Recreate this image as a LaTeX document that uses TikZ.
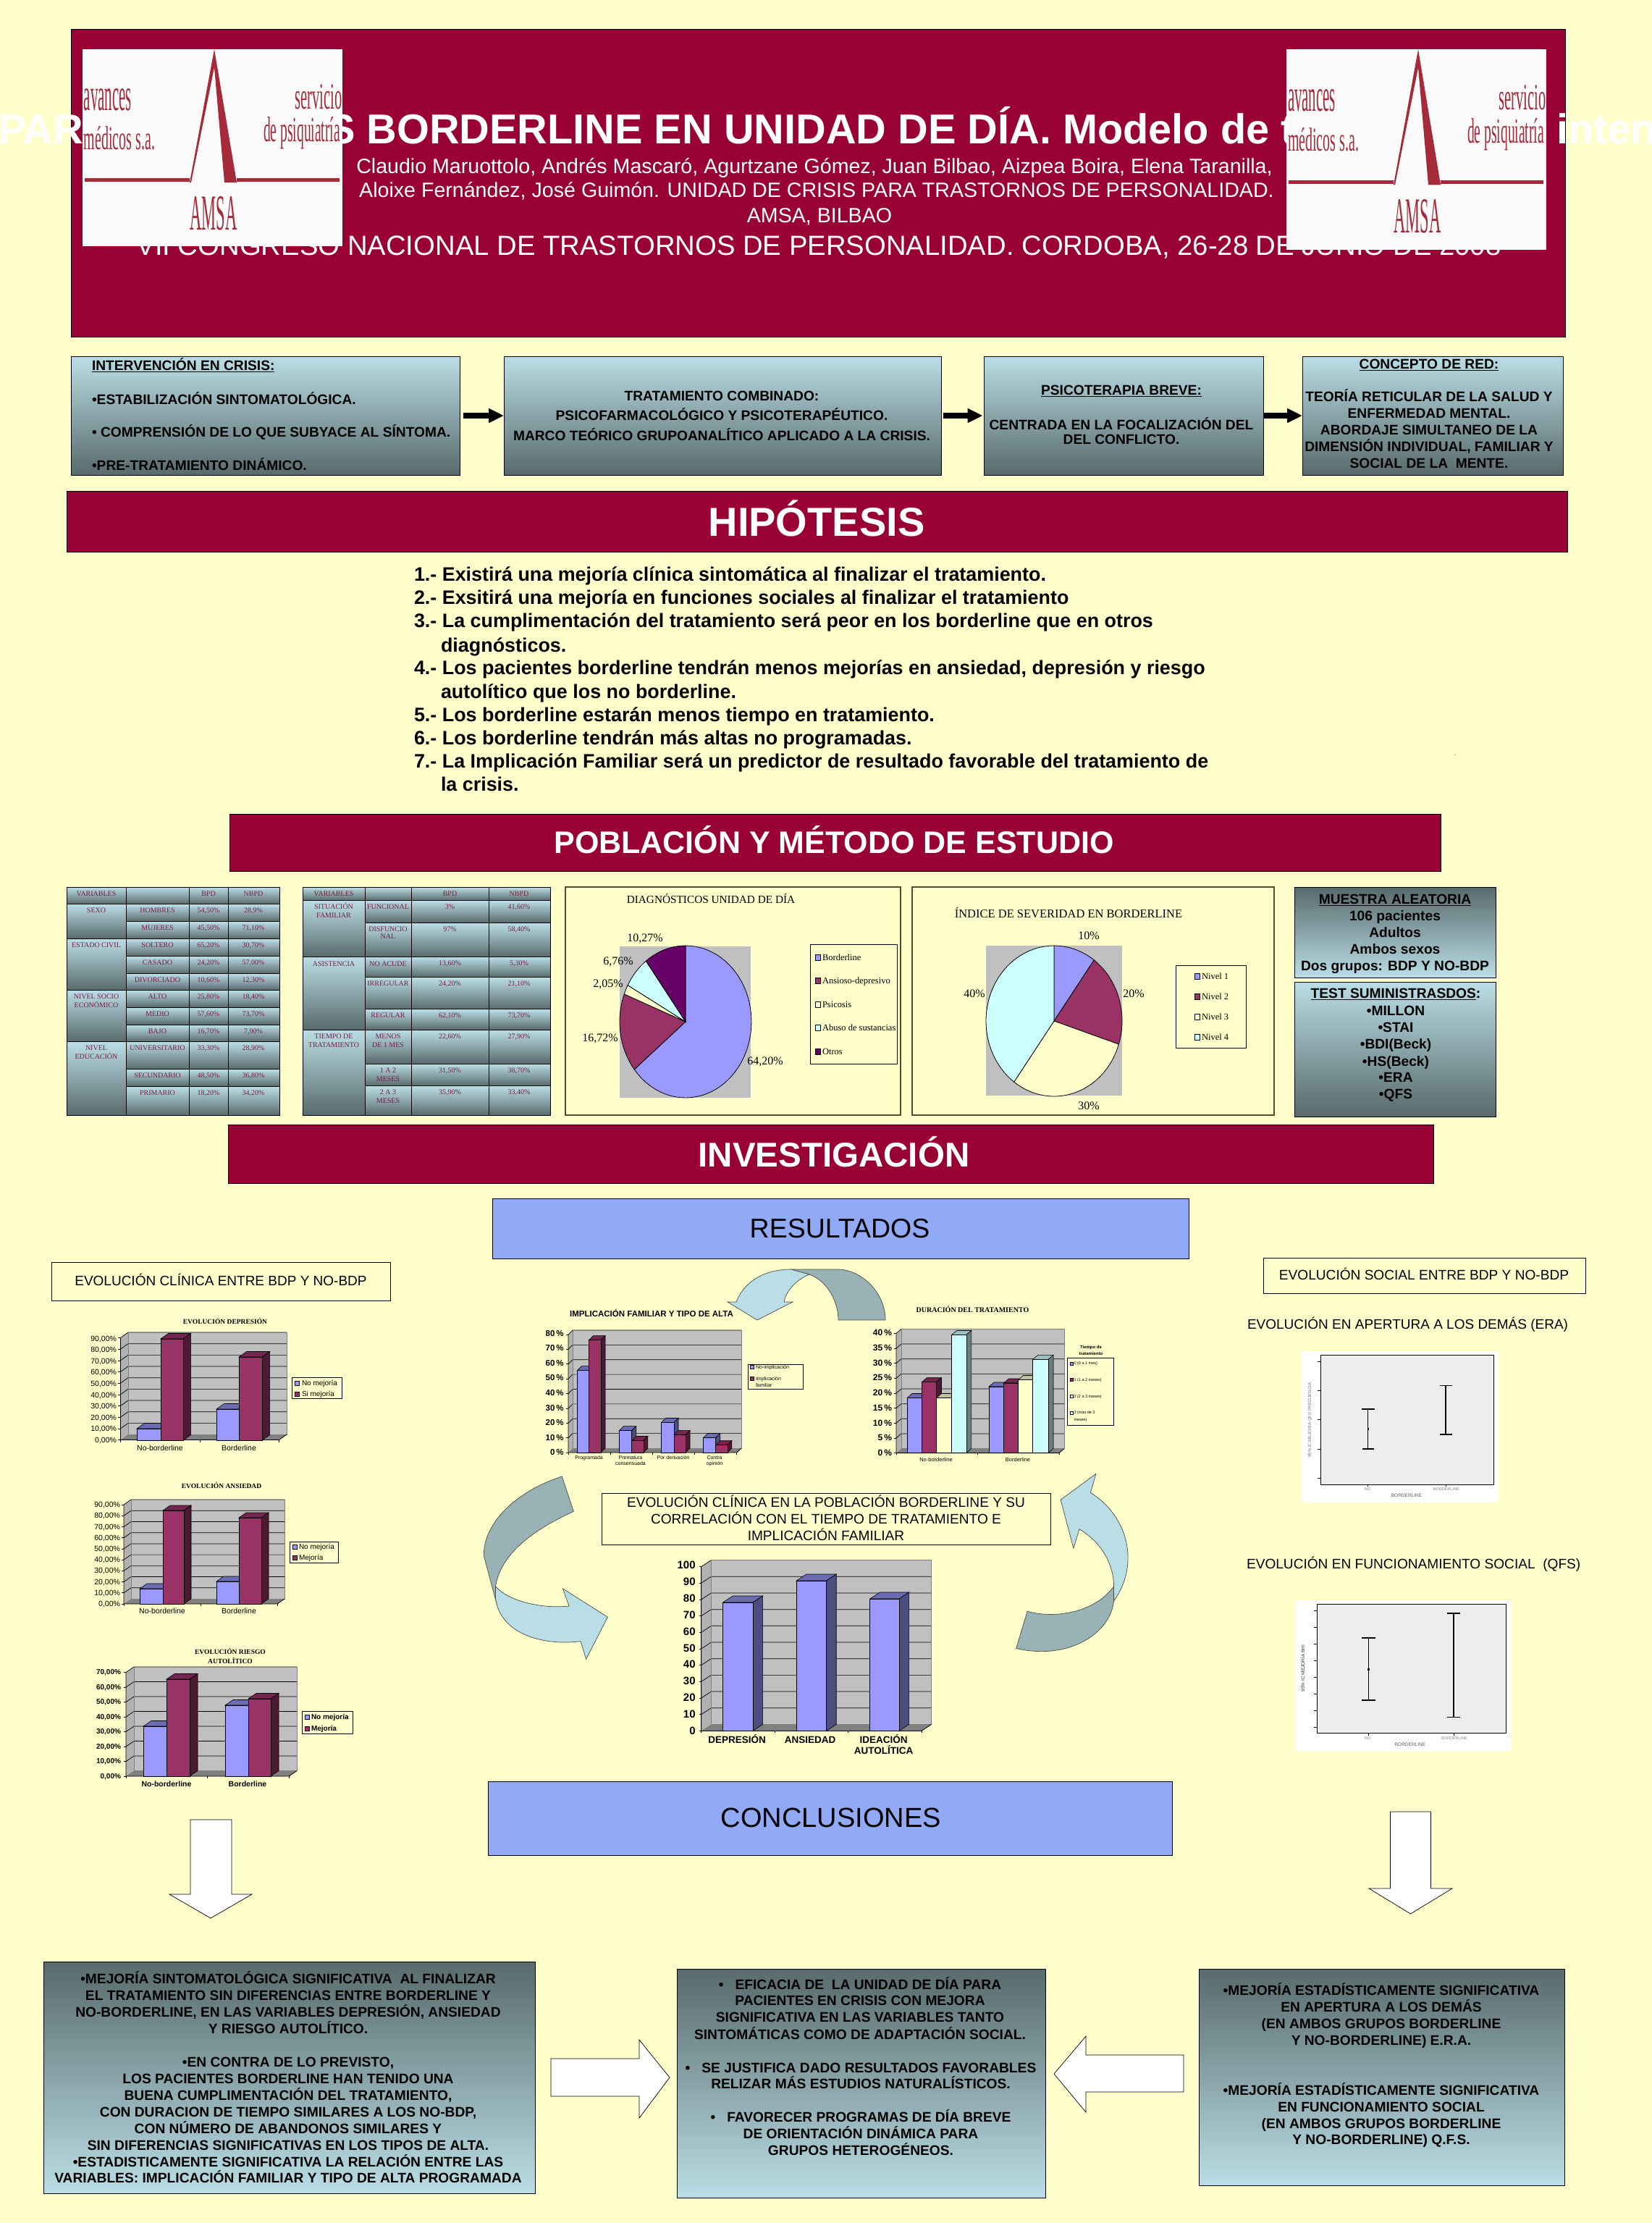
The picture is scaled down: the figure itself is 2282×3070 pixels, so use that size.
\documentclass[tikz,border=0pt]{standalone}
\usepackage{fontspec}
\setmainfont{Liberation Sans}
\newfontfamily\serifF{Liberation Serif}
\usetikzlibrary{arrows.meta}
\definecolor{pagebg}{HTML}{FFFFCC}
\definecolor{burg}{HTML}{990033}
\definecolor{secblue}{HTML}{92A9F6}
\definecolor{teallt}{HTML}{BADEE6}
\definecolor{tealdk}{HTML}{586A6C}
\definecolor{cblue}{HTML}{9999FF}
\definecolor{cbluetop}{HTML}{6C6CB4}
\definecolor{cblueside}{HTML}{4D4D80}
\definecolor{cred}{HTML}{993366}
\definecolor{credtop}{HTML}{732650}
\definecolor{credside}{HTML}{4D1A33}
\definecolor{cwhite}{HTML}{FFFFCC}
\definecolor{cwhitetop}{HTML}{BFBF99}
\definecolor{cwhiteside}{HTML}{808066}
\definecolor{ccyan}{HTML}{CCFFFF}
\definecolor{ccyantop}{HTML}{99BFBF}
\definecolor{ccyanside}{HTML}{668080}
\definecolor{cpurple}{HTML}{660066}
\definecolor{plotgray}{HTML}{C0C0C0}
\definecolor{floorgray}{HTML}{808080}
\definecolor{arrdark}{HTML}{98B2B6}
\definecolor{tabtext}{HTML}{7A1A45}
\definecolor{logored}{HTML}{A52A3A}
\definecolor{logobg}{HTML}{FAFAFB}
\newcommand\fs[1]{\fontsize{#1}{#1}\selectfont}
\newcount\nodeno
\tikzset{
  lbl/.style={inner sep=0pt,outer sep=0pt,align=center,text=black},
  boxdown/.style={draw=black,line width=1pt,top color=tealdk,bottom color=teallt},
  boxup/.style={draw=black,line width=1pt,top color=teallt,bottom color=tealdk},
  cellbox/.style={draw=black,line width=.9pt,top color=teallt,bottom color=tealdk},
  barline/.style={draw=black,line width=.6pt},
  gridl/.style={draw=black,line width=.7pt},
  blockarrow/.style={draw=black,line width=.7pt,fill=white},
  curvearrow/.style={draw=black!70,line width=.7pt},
  plainbox/.style={draw=black,line width=1pt,inner sep=0pt,outer sep=0pt},
  legendbox/.style={draw=black,line width=.9pt},
  swatch/.style={draw=black,line width=.6pt},
  flowarrow/.style={line width=8pt,-{Triangle[length=21pt,width=19pt]},draw=black},
  tabt/.style={lbl,text=tabtext,font=\serifF\fs{10}},
  boldt/.style={lbl,font=\bfseries\fs{19.2}},
}
\newcommand\tl[3][]{\global\advance\nodeno by 1 \node[lbl,#1] (n\the\nodeno) at (#2) {\vphantom{Óp}#3};}
\newcommand\tc[3]{\tl[tabt]{#1,#2}{#3}}
\newcommand\bt[3]{\tl[boldt]{#1,#2}{#3}}
\newcommand\btw[3]{\tl[boldt,anchor=west]{#1,#2}{#3}}
\newcommand\cellD[4]{\path[cellbox] (#1,#2) rectangle (#3,#4);}
\newcommand\barD[7]{%
  \draw[barline,fill=#6] (#1,#3)--({#1+\bdx},{#3-\bdy})--({#2+\bdx},{#3-\bdy})--(#2,#3)--cycle;
  \draw[barline,fill=#7] (#2,#3)--({#2+\bdx},{#3-\bdy})--({#2+\bdx},{#4-\bdy})--(#2,#4)--cycle;
  \draw[barline,fill=#5] (#1,#3) rectangle (#2,#4);}
\newcommand\bB[4]{\barD{#1}{#2}{#3}{#4}{cblue}{cbluetop}{cblueside}}
\newcommand\bR[4]{\barD{#1}{#2}{#3}{#4}{cred}{credtop}{credside}}
\newcommand\bW[4]{\barD{#1}{#2}{#3}{#4}{cwhite}{cwhitetop}{cwhiteside}}
\newcommand\bC[4]{\barD{#1}{#2}{#3}{#4}{ccyan}{ccyantop}{ccyanside}}
\newcommand\frameD[7]{%
  \def\bdx{#5}\def\bdy{#6}%
  \fill[plotgray] (#1,#3) rectangle (#2,#4);
  \fill[plotgray!92!black] ({#1-#5},{#3+#6})--(#1,#3)--(#1,#4)--({#1-#5},{#4+#6})--cycle;
  \fill[floorgray] ({#1-#5},{#4+#6})--(#1,#4)--(#2,#4)--({#2-#5},{#4+#6})--cycle;
  \foreach \ii in {1,...,#7}{
    \pgfmathsetmacro\yy{#4-\ii*(#4-#3)/#7}
    \draw[gridl] ({#1-#5},{\yy+#6})--(#1,\yy)--(#2,\yy);
    \draw[gridl] ({#1-#5-3},{\yy+#6})--({#1-#5},{\yy+#6});
  }
  \draw[floorgray,line width=.8pt] (#1,#3) rectangle (#2,#4);
  \draw[black,line width=.8pt] ({#1-#5},{#3+#6})--({#1-#5},{#4+#6})--({#2-#5},{#4+#6})--(#2,#4);
  \draw[gridl] ({#1-#5-3},{#4+#6})--({#1-#5},{#4+#6});
}
\newcommand\xticks[2]{\foreach \xx in {#2}{\draw[gridl] (\xx,#1)--(\xx,{#1+3});}}
\newcommand\ylab[5][]{\foreach \ii/\vv in {#5}{\pgfmathsetmacro\yy{#3-\ii*#4}\tl[anchor=east,#1]{#2,\yy}{\vv}}}
\newcommand\pieS[7]{\draw[black,line width=.8pt,fill=#7] (#1,#2)--plot[domain=#5:#6,samples=50] ({#1+#3*sin(\x)},{#2-#4*cos(\x)})--cycle;}
\newcommand\errbar[6]{%
  \draw[black,line width=1.5pt] (#1,#2)--(#1,#3);
  \draw[black,line width=1.5pt] ({#1-#5},#2)--({#1+#5},#2);
  \draw[black,line width=1.5pt] ({#1-#6},#3)--({#1+#6},#3);
  \fill[black] ({#1-1.2},{#4-1.2}) rectangle ({#1+1.2},{#4+1.2});}
\newcommand\logoD[3]{%
  \begin{scope}[shift={(#1,#2)},yscale=#3]
  \fill[logobg] (0,0) rectangle (359,272);
  \fill[logored] (182,0)--(213,184)--(196,184)--(182,25)--(150,184)--(148,184)--cycle;
  \fill[logored] (3,178) rectangle (148,183);
  \fill[logored] (213,178) rectangle (355,183);
  \node[lbl,font=\serifF,text=logored] (n\the\numexpr#1+1\relax) at (35,70) {\resizebox{66pt}{30pt}{avances}};
  \node[lbl,font=\serifF,text=logored] (n\the\numexpr#1+2\relax) at (51,123) {\resizebox{98pt}{32pt}{médicos s.a.}};
  \node[lbl,font=\serifF,text=logored] (n\the\numexpr#1+3\relax) at (326,66) {\resizebox{65pt}{34pt}{servicio}};
  \node[lbl,font=\serifF,text=logored] (n\the\numexpr#1+4\relax) at (303,116) {\resizebox{106pt}{34pt}{de psiquiatría}};
  \node[lbl,font=\serifF,text=logored] (n\the\numexpr#1+5\relax) at (181,227) {\resizebox{65pt}{46pt}{AMSA}};
  \end{scope}}
\begin{document}
\begin{tikzpicture}[x=1pt,y=-1pt]
\useasboundingbox (0,0) rectangle (2282,3070);
\clip (0,0) rectangle (2282,3070);
\fill[pagebg] (0,0) rectangle (2282,3070);

% ---------- header
\draw[fill=burg,draw=black,line width=1pt] (98,41) rectangle (2162,465);
\tl[anchor=east,font=\bfseries\fs{57.7},text=white]{115,179}{PAR}
\tl[anchor=west,font=\bfseries\fs{57.7},text=white]{452,179}{S BORDERLINE EN UNIDAD DE DÍA. Modelo de t}
\tl[anchor=west,font=\bfseries\fs{57.7},text=white]{2150,179}{inten}
\tl[font=\fs{28.6},text=white]{1125,230}{Claudio Maruottolo, Andrés Mascaró, Agurtzane Gómez, Juan Bilbao, Aizpea Boira, Elena Taranilla,}
\tl[font=\fs{28.6},text=white]{1128,263}{Aloixe Fernández, José Guimón. UNIDAD DE CRISIS PARA TRASTORNOS DE PERSONALIDAD.}
\tl[font=\fs{28.6},text=white]{1132,298}{AMSA, BILBAO}
\tl[font=\fs{38.3},text=white]{1131,340}{VII CONGRESO NACIONAL DE TRASTORNOS DE PERSONALIDAD. CORDOBA, 26-28 DE JUNIO DE 2008}
\logoD{114}{68}{1}
\logoD{1777}{68}{1.018}

% ---------- top flow boxes
\node[boxup,minimum width=537pt,minimum height=164pt,inner sep=0pt,outer sep=0pt] (crisis) at (366.5,574) {};
\node[boxup,minimum width=604pt,minimum height=164pt,inner sep=0pt,outer sep=0pt] (combi) at (998,574) {};
\node[boxup,minimum width=386pt,minimum height=164pt,inner sep=0pt,outer sep=0pt] (breve) at (1552.5,574) {};
\node[boxup,minimum width=360pt,minimum height=164pt,inner sep=0pt,outer sep=0pt] (red) at (1979,574) {};
\draw[flowarrow,shorten <=5pt] (crisis.east)--(combi.west);
\draw[flowarrow,shorten <=3pt,shorten >=2pt] (combi.east)--(breve.west);
\draw[flowarrow] (breve.east)--(red.west);
\btw{127}{505}{\underline{INTERVENCIÓN EN CRISIS:}}
\btw{127}{552}{•ESTABILIZACIÓN SINTOMATOLÓGICA.}
\btw{127}{597}{• COMPRENSIÓN DE LO QUE SUBYACE AL SÍNTOMA.}
\btw{127}{643}{•PRE-TRATAMIENTO DINÁMICO.}
\bt{997}{547}{TRATAMIENTO COMBINADO:}
\bt{997}{574}{PSICOFARMACOLÓGICO Y PSICOTERAPÉUTICO.}
\bt{997}{602}{MARCO TEÓRICO GRUPOANALÍTICO APLICADO A LA CRISIS.}
\bt{1549}{539}{\underline{PSICOTERAPIA BREVE:}}
\bt{1549}{587}{CENTRADA EN LA FOCALIZACIÓN DEL}
\bt{1549}{607}{DEL CONFLICTO.}
\bt{1974}{503}{\underline{CONCEPTO DE RED:}}
\bt{1974}{548}{TEORÍA RETICULAR DE LA SALUD Y}
\bt{1974}{571}{ENFERMEDAD MENTAL.}
\bt{1974}{594}{ABORDAJE SIMULTANEO DE LA}
\bt{1974}{617}{DIMENSIÓN INDIVIDUAL, FAMILIAR Y}
\bt{1974}{640}{SOCIAL DE LA~ MENTE.}

% ---------- section bars
\draw[fill=burg,draw=black,line width=1pt] (92,678) rectangle (2165,762);
\tl[font=\bfseries\fs{56},text=white]{1128,721}{HIPÓTESIS}
\draw[fill=burg,draw=black,line width=1pt] (317,1124) rectangle (1990,1203);
\tl[font=\bfseries\fs{43},text=white]{1152,1164}{POBLACIÓN Y MÉTODO DE ESTUDIO}
\draw[fill=burg,draw=black,line width=1pt] (315,1553) rectangle (1980,1634);
\tl[font=\bfseries\fs{47.5},text=white]{1152,1595}{INVESTIGACIÓN}
\draw[fill=secblue,draw=black,line width=1pt] (680,1655) rectangle (1642,1738);
\tl[font=\fs{37.5}]{1160,1697}{RESULTADOS}
\draw[fill=secblue,draw=black,line width=1pt] (674,2460) rectangle (1619,2562);
\tl[font=\fs{38}]{1148,2511}{CONCLUSIONES}

% ---------- hypotheses
\foreach \xp/\yp/\vv in {572/793/{1.- Existirá una mejoría clínica sintomática al finalizar el tratamiento.},
 572/825/{2.- Exsitirá una mejoría en funciones sociales al finalizar el tratamiento},
 572/857/{3.- La cumplimentación del tratamiento será peor en los borderline que en otros},
 609/891/{diagnósticos.},
 572/922/{4.- Los pacientes borderline tendrán menos mejorías en ansiedad, depresión y riesgo},
 609/955/{autolítico que los no borderline.},
 572/987/{5.- Los borderline estarán menos tiempo en tratamiento.},
 572/1019/{6.- Los borderline tendrán más altas no programadas.},
 572/1051/{7.- La Implicación Familiar será un predictor de resultado favorable del tratamiento de},
 609/1083/{la crisis.}}{
 \tl[anchor=west,font=\bfseries\fs{26.9}]{\xp,\yp}{\vv}}
\tl[font=\fs{8}]{2010,1041}{.}

% ---------- table 1
\cellD{92}{1225}{174}{1248.7}\cellD{174}{1225}{261}{1248.7}\cellD{261}{1225}{315}{1248.7}\cellD{315}{1225}{386}{1248.7}
\cellD{92}{1248.7}{174}{1296.7}\cellD{92}{1296.7}{174}{1367.3}\cellD{92}{1367.3}{174}{1438.7}\cellD{92}{1438.7}{174}{1540.7}
\foreach \ya/\yb/\ca/\cb/\cc in {1248.7/1272.7/HOMBRES/{54,50\%}/{28,9\%},
 1272.7/1296.7/MUJERES/{45,50\%}/{71,10\%},
 1296.7/1320.7/SOLTERO/{65,20\%}/{30,70\%},
 1320.7/1344.7/CASADO/{24,20\%}/{57,00\%},
 1344.7/1367.3/DIVORCIADO/{10,60\%}/{12,30\%},
 1367.3/1391.3/ALTO/{25,80\%}/{18,40\%},
 1391.3/1415.3/MEDIO/{57,60\%}/{73,70\%},
 1415.3/1438.7/BAJO/{16,70\%}/{7,90\%},
 1438.7/1476.7/UNIVERSITARIO/{33,30\%}/{28,90\%},
 1476.7/1500.3/SECUNDARIO/{48,50\%}/{36,80\%},
 1500.3/1540.7/PRIMARIO/{18,20\%}/{34,20\%}}{
 \cellD{174}{\ya}{261}{\yb}\cellD{261}{\ya}{315}{\yb}\cellD{315}{\ya}{386}{\yb}
 \pgfmathsetmacro\yt{\ya+9}
 \tc{217.5}{\yt}{\ca}\tc{288}{\yt}{\cb}\tc{350}{\yt}{\cc}}
\tc{133}{1234}{VARIABLES}\tc{288}{1234}{BPD}\tc{350}{1234}{NBPD}
\tc{133}{1257.5}{SEXO}\tc{133}{1305.5}{ESTADO CIVIL}
\tc{133}{1376.5}{NIVEL SOCIO}\tc{133}{1388}{ECONÓMICO}
\tc{133}{1447.5}{NIVEL}\tc{133}{1459.5}{EDUCACIÓN}

% ---------- table 2
\cellD{418}{1225}{504}{1243.7}\cellD{504}{1225}{568}{1243.7}\cellD{568}{1225}{675}{1243.7}\cellD{675}{1225}{760}{1243.7}
\cellD{418}{1243.7}{504}{1321.7}\cellD{418}{1321.7}{504}{1422.3}\cellD{418}{1422.3}{504}{1540.7}
\foreach \ya/\yb/\cb/\cc in {1243.7/1274.3/{3\%}/{41,60\%},
 1274.3/1321.7/{97\%}/{58,40\%},
 1321.7/1349.7/{13,60\%}/{5,30\%},
 1349.7/1393.7/{24,20\%}/{21,10\%},
 1393.7/1422.3/{62,10\%}/{73,70\%},
 1422.3/1469.3/{22,60\%}/{27,90\%},
 1469.3/1499.7/{31,50\%}/{38,70\%},
 1499.7/1540.7/{35,90\%}/{33,40\%}}{
 \cellD{504}{\ya}{568}{\yb}\cellD{568}{\ya}{675}{\yb}\cellD{675}{\ya}{760}{\yb}
 \pgfmathsetmacro\yt{\ya+9}
 \tc{621.5}{\yt}{\cb}\tc{717}{\yt}{\cc}}
\tc{461}{1234.5}{VARIABLES}\tc{621.5}{1234.5}{BPD}\tc{717}{1234.5}{NBPD}
\tc{461}{1252.5}{SITUACIÓN}\tc{461}{1264.5}{FAMILIAR}
\tc{461}{1331}{ASISTENCIA}
\tc{461}{1431.5}{TIEMPO DE}\tc{461}{1443.5}{TRATAMIENTO}
\tc{536}{1252}{FUNCIONAL}\tc{536}{1283}{DISFUNCIO}\tc{536}{1293.5}{NAL}
\tc{536}{1331}{NO ACUDE}\tc{536}{1358}{IRREGULAR}\tc{536}{1402.5}{REGULAR}
\tc{536}{1431.5}{MENOS}\tc{536}{1443.5}{DE 1 MES}
\tc{536}{1478.5}{1 A 2}\tc{536}{1490.5}{MESES}
\tc{536}{1508.5}{2 A 3}\tc{536}{1520.5}{MESES}

% ---------- pie 1
\draw[draw=black!55!olive,fill=pagebg,line width=1.5pt] (781,1225) rectangle (1244,1540);
\fill[plotgray] (856,1307) rectangle (1037,1516);
\pieS{947}{1411}{91}{105}{0}{231.12}{cblue}
\pieS{947}{1411}{91}{105}{231.12}{291.31}{cred}
\pieS{947}{1411}{91}{105}{291.31}{298.69}{cwhite}
\pieS{947}{1411}{91}{105}{298.69}{323.03}{ccyan}
\pieS{947}{1411}{91}{105}{323.03}{360}{cpurple}
\tl[font=\serifF\fs{15.3}]{982,1243}{DIAGNÓSTICOS UNIDAD DE DÍA}
\tl[font=\serifF\fs{16}]{891,1295}{10,27\%}
\tl[font=\serifF\fs{16}]{854,1327}{6,76\%}
\tl[font=\serifF\fs{16}]{840,1358}{2,05\%}
\tl[font=\serifF\fs{16}]{829,1433}{16,72\%}
\tl[font=\serifF\fs{16}]{1057,1465}{64,20\%}
\draw[legendbox,fill=pagebg] (1119,1304) rectangle (1239,1469);
\foreach \yy/\cl/\vv in {1322/cblue/Borderline,1354/cred/Ansioso-depresivo,1387/cwhite/Psicosis,1419/ccyan/Abuso de sustancias,1452/cpurple/Otros}{
 \draw[swatch,fill=\cl] (1126,{\yy-4}) rectangle (1133,{\yy+4});
 \tl[anchor=west,font=\serifF\fs{12.5}]{1136,\yy}{\vv}}

% ---------- pie 2
\draw[draw=black!55!olive,fill=pagebg,line width=1.5pt] (1260,1225) rectangle (1760,1540);
\fill[plotgray] (1362,1306) rectangle (1550,1513);
\pieS{1456}{1410}{94}{104}{0}{36}{cblue}
\pieS{1456}{1410}{94}{104}{36}{108}{cred}
\pieS{1456}{1410}{94}{104}{108}{216}{cwhite}
\pieS{1456}{1410}{94}{104}{216}{360}{ccyan}
\tl[font=\serifF\fs{16.5}]{1476,1262}{ÍNDICE DE SEVERIDAD EN BORDERLINE}
\tl[font=\serifF\fs{16}]{1504,1292}{10\%}
\tl[font=\serifF\fs{16}]{1566,1372}{20\%}
\tl[font=\serifF\fs{16}]{1504,1527}{30\%}
\tl[font=\serifF\fs{16}]{1346,1372}{40\%}
\draw[legendbox,fill=pagebg] (1624,1333) rectangle (1721,1447);
\foreach \yy/\cl/\vv in {1348/cblue/Nivel 1,1376/cred/Nivel 2,1404/cwhite/Nivel 3,1432/ccyan/Nivel 4}{
 \draw[swatch,fill=\cl] (1650,{\yy-4}) rectangle (1657,{\yy+4});
 \tl[anchor=west,font=\serifF\fs{12.5}]{1660,\yy}{\vv}}

% ---------- method boxes
\path[boxdown] (1788,1225) rectangle (2066,1350);
\path[boxup] (1788,1356) rectangle (2066,1542);
\foreach \yy/\vv in {1242/{\underline{MUESTRA ALEATORIA}},1265/{106 pacientes},1288/{Adultos},1311/{Ambos sexos},1334/{Dos grupos: BDP Y NO-BDP}}{
 \tl[font=\bfseries\fs{19.2}]{1927,\yy}{\vv}}
\foreach \yy/\vv in {1372/{\underline{TEST SUMINISTRASDOS}:},1396/{•MILLON},1419/{•STAI},1442/{•BDI(Beck)},1466/{•HS(Beck)},1488/{•ERA},1511/{•QFS}}{
 \tl[font=\bfseries\fs{19.2}]{1928,\yy}{\vv}}

% ---------- left label and charts
\draw[plainbox] (71,1743) rectangle (539,1796);
\tl[font=\fs{19}]{305,1769}{EVOLUCIÓN CLÍNICA ENTRE BDP Y NO-BDP}

% chart depresion
\tl[font=\serifF\bfseries\fs{9.5}]{311,1825}{EVOLUCIÓN DEPRESIÓN}
\frameD{177}{396}{1840}{1981}{10.6}{7.5}{9}
\xticks{1989}{166.4,275.9,385.4}
\bB{189}{222}{1973}{1989}\bR{222}{253}{1849}{1989}
\bB{299}{330}{1946}{1989}\bR{330}{362}{1874}{1989}
\ylab[font=\fs{10.5}]{161}{1989}{15.6}{0/{0,00\%},1/{10,00\%},2/{20,00\%},3/{30,00\%},4/{40,00\%},5/{50,00\%},6/{60,00\%},7/{70,00\%},8/{80,00\%},9/{90,00\%}}
\tl[font=\fs{10.5}]{221,2000}{No-borderline}\tl[font=\fs{10.5}]{330,2000}{Borderline}
\draw[legendbox,fill=pagebg] (403,1902) rectangle (472,1931);
\draw[swatch,fill=cblue] (407,1907) rectangle (413,1913);\tl[anchor=west,font=\fs{10}]{417,1910}{No mejoría}
\draw[swatch,fill=cred] (407,1922) rectangle (413,1928);\tl[anchor=west,font=\fs{10}]{417,1925}{Si mejoría}

% chart ansiedad
\tl[font=\serifF\bfseries\fs{9.5}]{306,2052}{EVOLUCIÓN ANSIEDAD}
\frameD{181}{393}{2071}{2208}{10}{7}{9}
\xticks{2215}{171,277,383}
\bB{193}{225}{2194}{2215}\bR{225}{254}{2086}{2215}
\bB{299}{330}{2184}{2215}\bR{330}{361}{2096}{2215}
\ylab[font=\fs{10.5}]{166}{2215}{15.2}{0/{0,00\%},1/{10,00\%},2/{20,00\%},3/{30,00\%},4/{40,00\%},5/{50,00\%},6/{60,00\%},7/{70,00\%},8/{80,00\%},9/{90,00\%}}
\tl[font=\fs{10.5}]{224,2225.5}{No-borderline}\tl[font=\fs{10.5}]{330,2225.5}{Borderline}
\draw[legendbox,fill=pagebg] (400,2129) rectangle (467,2158);
\draw[swatch,fill=cblue] (404,2133.5) rectangle (410,2139.5);\tl[anchor=west,font=\fs{10}]{413,2136.5}{No mejoría}
\draw[swatch,fill=cred] (404,2148) rectangle (410,2154);\tl[anchor=west,font=\fs{10}]{413,2151}{Mejoría}

% chart riesgo
\tl[font=\serifF\bfseries\fs{9.5}]{318,2281}{EVOLUCIÓN RIESGO}
\tl[font=\serifF\bfseries\fs{9.5}]{318,2294}{AUTOLÍTICO}
\frameD{185}{410}{2302}{2445.5}{11}{7.5}{7}
\xticks{2453}{174,286.5,399}
\bB{198}{230}{2384}{2453}\bR{230}{262}{2319}{2453}
\bB{311}{343}{2355}{2453}\bR{343}{374}{2346}{2453}
\ylab[font=\bfseries\fs{10}]{167}{2453}{20.5}{0/{0,00\%},1/{10,00\%},2/{20,00\%},3/{30,00\%},4/{40,00\%},5/{50,00\%},6/{60,00\%},7/{70,00\%}}
\tl[font=\bfseries\fs{10.5}]{230,2464}{No-borderline}\tl[font=\bfseries\fs{10.5}]{342,2464}{Borderline}
\draw[legendbox,fill=pagebg] (417,2363) rectangle (487,2394);
\draw[swatch,fill=cblue] (421,2368.5) rectangle (427,2374.5);\tl[anchor=west,font=\bfseries\fs{10}]{430,2371.5}{No mejoría}
\draw[swatch,fill=cred] (421,2384) rectangle (427,2390);\tl[anchor=west,font=\bfseries\fs{10}]{430,2387}{Mejoría}

% ---------- curved arrows
\begin{scope}[shift={(650,1760)},xscale=.574,yscale=.4464]
\draw[curvearrow,fill=arrdark] (220,625) .. controls (110,670) and (30,770) .. (32,870) -- (62,1015) -- (60,965) .. controls (75,850) and (170,780) .. (248,733) -- cycle;
\draw[curvearrow,fill=teallt] (60,965) .. controls (90,1010) and (170,1035) .. (237,1026) -- (222,972) -- (330,1060) -- (278,1190) -- (265,1135) .. controls (170,1150) and (70,1110) .. (60,1000) -- cycle;
\draw[curvearrow,fill=teallt] (1505,617) -- (1420,697) -- (1451,847) -- (1465,788) .. controls (1520,830) and (1550,900) .. (1548,975) -- (1548,1010) .. controls (1610,900) and (1585,750) .. (1492,675) -- cycle;
\draw[curvearrow,fill=arrdark] (1313,1157) -- (1340,1042) .. controls (1400,1065) and (1500,1050) .. (1548,965) -- (1548,1010) .. controls (1540,1110) and (1440,1195) .. (1313,1157) -- cycle;
\end{scope}
\draw[curvearrow,fill=arrdark] (1158,1823) -- (1223,1823) .. controls (1223,1785) and (1190,1753) .. (1157,1753) -- (1093,1753) -- (1118,1760) .. controls (1145,1770) and (1158,1800) .. (1158,1823) -- cycle;
\draw[curvearrow,fill=teallt] (1046,1823) -- (1005,1798) -- (1017,1798) .. controls (1028,1770) and (1055,1753) .. (1093,1753) -- (1118,1760) .. controls (1098,1768) and (1085,1785) .. (1083,1798) -- (1095,1798) -- cycle;

% chart implicacion
\tl[font=\bfseries\fs{11.5}]{900,1815}{IMPLICACIÓN FAMILIAR Y TIPO DE ALTA}
\frameD{791}{1024}{1837}{2000}{6}{6}{8}
\xticks{2006}{785,843,901,959,1017}
\bB{797.5}{813.6}{1892.6}{2006}\bR{813.6}{830}{1850.6}{2006}
\bB{855.5}{872.7}{1975.6}{2006}\bR{872.7}{888.8}{1989.5}{2006}
\bB{913.5}{931}{1964.5}{2006}\bR{931}{947}{1981.4}{2006}
\bB{971.5}{988.7}{1985.5}{2006}\bR{988.7}{1004.8}{1995.7}{2006}
\ylab[font=\bfseries\fs{11.5}]{778.6}{2006}{20.6}{0/{0\,\%},1/{10\,\%},2/{20\,\%},3/{30\,\%},4/{40\,\%},5/{50\,\%},6/{60\,\%},7/{70\,\%},8/{80\,\%}}
\tl[font=\fs{7}]{813.6,2013.6}{Programada}
\tl[font=\fs{7}]{871,2013.6}{Prematura}\tl[font=\fs{7}]{871,2021.6}{consensuada}
\tl[font=\fs{7}]{930,2013.6}{Por derivación}
\tl[font=\fs{7}]{987,2013.6}{Contra}\tl[font=\fs{7}]{987,2021.6}{opinión}
\draw[legendbox,fill=pagebg] (1033,1884) rectangle (1109,1918.5);
\draw[swatch,fill=cblue] (1036,1885.5) rectangle (1041,1890.5);\tl[anchor=west,font=\fs{7}]{1044,1887.7}{No-implicación}
\draw[swatch,fill=cred] (1036,1901.5) rectangle (1041,1906.5);\tl[anchor=west,font=\fs{7}]{1044,1904}{Implicación}
\tl[anchor=west,font=\fs{7}]{1044,1912.7}{familiar}

% chart duracion
\tl[font=\serifF\bfseries\fs{10}]{1343.5,1809.5}{DURACIÓN DEL TRATAMIENTO}
\frameD{1245}{1470}{1835.4}{2000.6}{7}{6}{8}
\xticks{2006.4}{1238,1350.5,1463}
\bB{1253}{1273.4}{1930.5}{2006.4}\bR{1273.4}{1293.5}{1908.7}{2006.4}\bW{1293.5}{1314.7}{1930.5}{2006.4}\bC{1314.7}{1334.8}{1843.5}{2006.4}
\bB{1366}{1386.5}{1915}{2006.4}\bR{1386.5}{1406.6}{1910}{2006.4}\bW{1406.6}{1426.7}{1905.5}{2006.4}\bC{1426.7}{1448}{1877.4}{2006.4}
\ylab[font=\bfseries\fs{12}]{1232}{2006.4}{20.7}{0/{0\,\%},1/{5\,\%},2/{10\,\%},3/{15\,\%},4/{20\,\%},5/{25\,\%},6/{30\,\%},7/{35\,\%},8/{40\,\%}}
\tl[font=\fs{7.5}]{1293,2016}{No-borderline}\tl[font=\fs{7.5}]{1406,2016}{Borderline}
\tl[font=\bfseries\fs{6}]{1507,1860}{Tiempo de}\tl[font=\bfseries\fs{6}]{1507,1869.4}{tratamiento}
\draw[legendbox,fill=pagebg] (1474,1875.6) rectangle (1538.6,1968);
\draw[swatch,fill=cblue] (1478,1880.8) rectangle (1482,1884.8);\tl[anchor=west,font=\fs{5.5}]{1483.5,1882.8}{0 (0 a 1 mes)}
\draw[swatch,fill=cred] (1478,1903.5) rectangle (1482,1907.5);\tl[anchor=west,font=\fs{5.5}]{1483.5,1905.5}{1 (1 a 2 meses)}
\draw[swatch,fill=cwhite] (1478,1926.3) rectangle (1482,1930.3);\tl[anchor=west,font=\fs{5.5}]{1483.5,1928.3}{2 (2 a 3 meses)}
\draw[swatch,fill=ccyan] (1478,1949) rectangle (1482,1953);\tl[anchor=west,font=\fs{5.5}]{1483.5,1951}{3 (más de 3}
\tl[anchor=west,font=\fs{5.5}]{1483.5,1961}{meses)}

% center box and chart
\draw[plainbox] (831.4,2062) rectangle (1451.4,2133);
\tl[font=\fs{19.1}]{1141,2075}{EVOLUCIÓN CLÍNICA EN LA POBLACIÓN BORDERLINE Y SU}
\tl[font=\fs{19.1}]{1141,2098}{CORRELACIÓN CON EL TIEMPO DE TRATAMIENTO E}
\tl[font=\fs{19.1}]{1141,2120.7}{IMPLICACIÓN FAMILIAR}
\frameD{982.4}{1286.6}{2154.6}{2381.4}{13.8}{9}{10}
\xticks{2390.4}{968.6,1070,1171.5,1273}
\bB{998.5}{1039.8}{2213}{2390.4}
\bB{1100}{1141.4}{2183}{2390.4}
\bB{1201.7}{1241.8}{2208}{2390.4}
\ylab[font=\bfseries\fs{15}]{960.6}{2390.4}{22.9}{0/0,1/10,2/20,3/30,4/40,5/50,6/60,7/70,8/80,9/90,10/100}
\tl[font=\bfseries\fs{13.5}]{1018,2403}{DEPRESIÓN}
\tl[font=\bfseries\fs{13.5}]{1119,2403}{ANSIEDAD}
\tl[font=\bfseries\fs{13.5}]{1220.6,2403}{IDEACIÓN}
\tl[font=\bfseries\fs{13.5}]{1220.6,2418}{AUTOLÍTICA}

% ---------- right column
\draw[plainbox] (1745,1737) rectangle (2190,1786);
\tl[font=\fs{19.1}]{1967,1761}{EVOLUCIÓN SOCIAL ENTRE BDP Y NO-BDP}
\tl[anchor=west,font=\fs{19}]{1723,1829}{EVOLUCIÓN EN APERTURA A LOS DEMÁS (ERA)}
\tl[anchor=west,font=\fs{19.1}]{1722,2160}{EVOLUCIÓN EN FUNCIONAMIENTO SOCIAL~ (QFS)}

\fill[white] (1798,1866) rectangle (2068.5,2074.5);
\draw[black,line width=.9pt,fill=black!7] (1824,1871.5) rectangle (2063.6,2050);
\foreach \yy in {1880,1920,1960,2001,2041}{\draw[black,line width=.6pt] (1820,\yy)--(1824,\yy);}
\foreach \xx in {1889.7,1997}{\draw[black,line width=.6pt] (\xx,2050)--(\xx,2053);}
\errbar{1889.7}{1946}{2001}{1973.4}{9}{8}
\errbar{1997}{1913.3}{1981}{1947}{8.5}{8.5}
\tl[rotate=90,font=\fs{6},text=black!55]{1809,1961}{95\% IC MEJORÍA QFS FRECUENCIA}
\tl[font=\fs{5.5},text=black!50]{1889,2056.5}{NO}
\tl[font=\fs{5.5},text=black!50]{1998,2056.5}{BORDERLINE}
\tl[font=\fs{6.5},text=black!65]{1943,2065}{BORDERLINE}

\fill[white] (1788.5,2210) rectangle (2086.7,2418);
\draw[black,line width=.9pt,fill=black!7] (1819,2215) rectangle (2080.5,2393.5);
\foreach \yy in {2224,2247,2270,2293,2316,2339,2362,2385}{\draw[black,line width=.6pt] (1815,\yy)--(1819,\yy);}
\foreach \xx in {1890.4,2008}{\draw[black,line width=.6pt] (\xx,2393.5)--(\xx,2396.5);}
\errbar{1890.4}{2262}{2348}{2305.4}{9.3}{9.3}
\errbar{2008}{2228}{2371.5}{2300}{9.3}{9.3}
\tl[rotate=90,font=\fs{6.5},text=black!80]{1800,2304}{95\% IC MEJORÍA BHI}
\tl[font=\fs{5.5},text=black!50]{1889,2401}{NO}
\tl[font=\fs{5.5},text=black!50]{2009,2401}{BORDERLINE}
\tl[font=\fs{6.5},text=black!65]{1948,2409}{BORDERLINE}

% ---------- down arrows
\draw[blockarrow] (263,2513)--(320,2513)--(320,2616)--(348,2616)--(291,2649)--(234,2616)--(263,2616)--cycle;
\draw[blockarrow] (1920.5,2502)--(1976.5,2502)--(1976.5,2608)--(2006,2608)--(1948.5,2643)--(1891,2608)--(1920.5,2608)--cycle;
\draw[blockarrow] (761,2843)--(883,2843)--(883,2817)--(925,2869)--(883,2925)--(883,2895)--(761,2895)--cycle;
\draw[blockarrow] (1635,2838)--(1500,2838)--(1500,2812)--(1456,2864)--(1500,2917)--(1500,2889)--(1635,2889)--cycle;

% ---------- conclusions
\path[boxdown] (60,2709) rectangle (739,3029);
\path[boxdown] (935,2719) rectangle (1444.5,3035);
\path[boxdown] (1656,2719) rectangle (2161.5,3018);
\bt{398}{2733}{•MEJORÍA SINTOMATOLÓGICA SIGNIFICATIVA~ AL FINALIZAR}
\bt{398}{2756}{EL TRATAMIENTO SIN DIFERENCIAS ENTRE BORDERLINE Y}
\bt{398}{2779}{NO-BORDERLINE, EN LAS VARIABLES DEPRESIÓN, ANSIEDAD}
\bt{398}{2802}{Y RIESGO AUTOLÍTICO.}
\bt{398}{2848}{•EN CONTRA DE LO PREVISTO,}
\bt{398}{2871}{LOS PACIENTES BORDERLINE HAN TENIDO UNA}
\bt{398}{2894}{BUENA CUMPLIMENTACIÓN DEL TRATAMIENTO,}
\bt{398}{2917}{CON DURACION DE TIEMPO SIMILARES A LOS NO-BDP,}
\bt{398}{2940}{CON NÚMERO DE ABANDONOS SIMILARES Y}
\bt{398}{2963}{SIN DIFERENCIAS SIGNIFICATIVAS EN LOS TIPOS DE ALTA.}
\bt{398}{2986}{•ESTADISTICAMENTE SIGNIFICATIVA LA RELACIÓN ENTRE LAS}
\bt{398}{3008}{VARIABLES: IMPLICACIÓN FAMILIAR Y TIPO DE ALTA PROGRAMADA}
\bt{1188}{2741}{•~~~EFICACIA DE~ LA UNIDAD DE DÍA PARA}
\bt{1188}{2763}{PACIENTES EN CRISIS CON MEJORA}
\bt{1188}{2786}{SIGNIFICATIVA EN LAS VARIABLES TANTO}
\bt{1188}{2810}{SINTOMÁTICAS COMO DE ADAPTACIÓN SOCIAL.}
\bt{1189}{2856}{•~~~SE JUSTIFICA DADO RESULTADOS FAVORABLES}
\bt{1189}{2878}{RELIZAR MÁS ESTUDIOS NATURALÍSTICOS.}
\bt{1189}{2924}{•~~~FAVORECER PROGRAMAS DE DÍA BREVE}
\bt{1189}{2947}{DE ORIENTACIÓN DINÁMICA PARA}
\bt{1189}{2970}{GRUPOS HETEROGÉNEOS.}
\bt{1908}{2749}{•MEJORÍA ESTADÍSTICAMENTE SIGNIFICATIVA}
\bt{1908}{2772}{EN APERTURA A LOS DEMÁS}
\bt{1908}{2795}{(EN AMBOS GRUPOS BORDERLINE}
\bt{1908}{2818}{Y NO-BORDERLINE) E.R.A.}
\bt{1908}{2887}{•MEJORÍA ESTADÍSTICAMENTE SIGNIFICATIVA}
\bt{1908}{2910}{EN FUNCIONAMIENTO SOCIAL}
\bt{1908}{2933}{(EN AMBOS GRUPOS BORDERLINE}
\bt{1908}{2955}{Y NO-BORDERLINE) Q.F.S.}
\end{tikzpicture}
\end{document}
